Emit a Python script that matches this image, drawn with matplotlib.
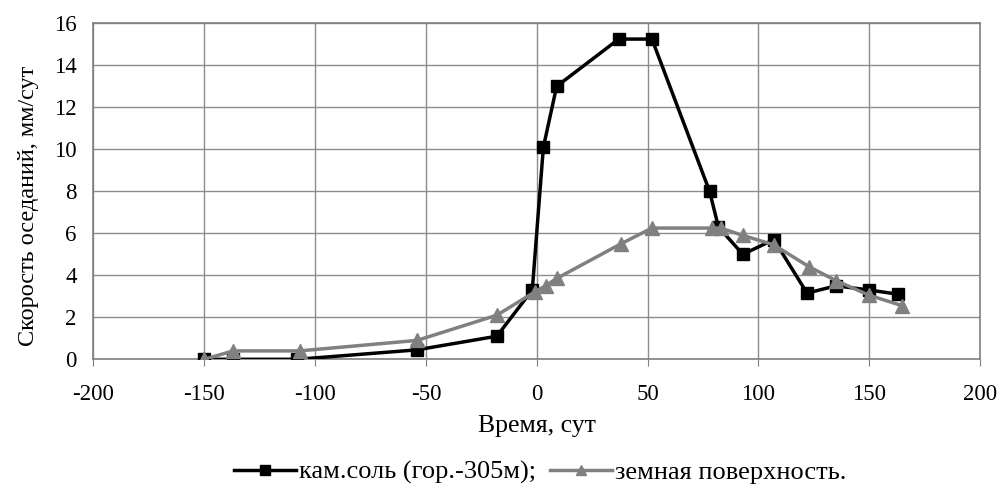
import matplotlib
matplotlib.use("Agg")
import matplotlib.pyplot as plt

# каменная соль (гор. -305 м)
salt_t = [-150, -137, -108, -54, -18, -2, 3, 9, 37, 52, 78, 82, 93, 107, 122, 135, 150, 163]
salt_v = [0.0, 0.0, 0.0, 0.45, 1.1, 3.3, 10.1, 13.0, 15.25, 15.25, 8.0, 6.3, 5.0, 5.7, 3.15, 3.5, 3.3, 3.1]

# земная поверхность
surf_t = [-150, -137, -107, -54, -18, -1, 4, 9, 38, 52, 79, 83, 93, 107, 123, 135, 150, 165]
surf_v = [0.0, 0.4, 0.4, 0.9, 2.1, 3.2, 3.5, 3.85, 5.5, 6.25, 6.25, 6.25, 5.9, 5.45, 4.4, 3.75, 3.05, 2.55]

xticks = [-200, -150, -100, -50, 0, 50, 100, 150, 200]
yticks = [0, 2, 4, 6, 8, 10, 12, 14, 16]

plt.rcParams['font.family'] = ['Liberation Serif', 'DejaVu Serif']
plt.rcParams['axes.unicode_minus'] = False

fig = plt.figure(figsize=(10.02, 4.86), dpi=100)
ax = fig.add_axes([0.0933, 0.2607, 0.8847, 0.6913])

ax.plot(salt_t, salt_v, color='black', lw=2.5, marker='s', markersize=9,
        label='кам.соль (гор.-305м);', zorder=3)
ax.plot(surf_t, surf_v, color='#808080', lw=2.5, marker='^', markersize=10.5,
        label='земная поверхность.', zorder=4)

ax.set_xlim(-200, 200)
ax.set_ylim(0, 16)
ax.set_xticks(xticks)
ax.set_yticks(yticks)
ax.grid(True, color='#8c8c8c', lw=1.0)
ax.set_axisbelow(True)

for s in ax.spines.values():
    s.set_color('#808080')
    s.set_linewidth(1.2)

ax.tick_params(axis='x', length=5, color='#808080', labelsize=16.5, pad=13)
ax.tick_params(axis='y', length=0, labelsize=16.5, pad=12)

ax.set_xlabel('Время, сут', fontsize=18.5, labelpad=7)
ax.set_ylabel('Скорость оседаний, мм/сут', fontsize=17.5)
ax.yaxis.set_label_coords(-0.062, 0.456)

fig.legend(loc='center', bbox_to_anchor=(0.539, 0.028), ncol=2, frameon=False,
           fontsize=19, handlelength=2.35, handletextpad=0.1, columnspacing=0.55,
           markerscale=0.75)

fig.savefig('out.png', dpi=100)
